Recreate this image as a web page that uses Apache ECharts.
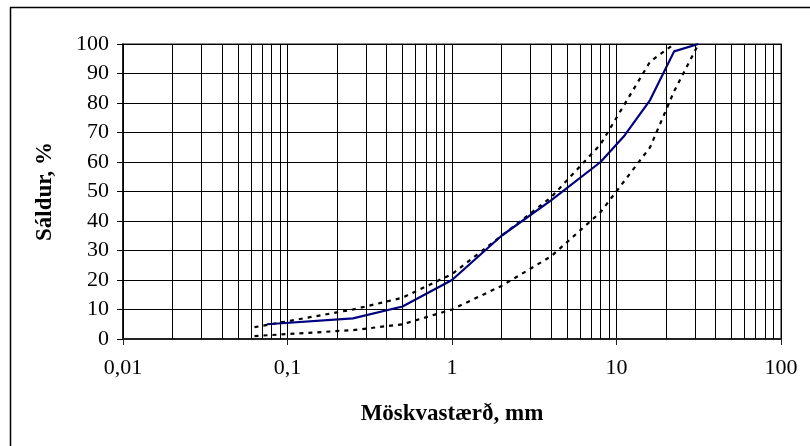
<!DOCTYPE html>
<html>
<head>
<meta charset="utf-8">
<script src="https://cdn.jsdelivr.net/npm/echarts@6/dist/echarts.min.js"></script>
<style>
html,body{margin:0;padding:0;background:#fff;}
#c{width:810px;height:446px;}
</style>
</head>
<body>
<div id="c"></div>
<script>
// Sieve sizes (mm) and passing (%) for each curve
const sampleSizes   = [0.075, 0.25, 0.5, 1, 2, 4, 8, 11.2, 16, 22.4, 31.5];
const samplePassing = [5, 7, 11, 20, 35, 47, 60, 69, 81, 97.5, 100];

const upperSizes   = [0.063, 0.25, 0.5, 1, 2, 4, 8, 16, 22.4];
const upperPassing = [4, 10, 14, 22, 35, 48, 66, 94, 100];

const lowerSizes   = [0.063, 0.25, 0.5, 1, 2, 4, 8, 16, 22.4, 31.5];
const lowerPassing = [1, 3, 5, 10, 18, 28, 43, 65, 84, 100];

// Axis settings / labels
const xMin = 0.01, xMax = 100;
const yMin = 0, yMax = 100, yInterval = 10;
const xTitle = 'Möskvastærð, mm';
const yTitle = 'Sáldur, %';

// Minor log grid positions (2..9 within each decade)
const decades = [0.01, 0.1, 1, 10];
const minorMultipliers = [2, 3, 4, 5, 6, 7, 8, 9];
const minorGridValues = [];
decades.forEach(d => minorMultipliers.forEach(m => minorGridValues.push(+(d * m).toPrecision(6))));

const zip = (xs, ys) => xs.map((x, i) => [x, ys[i]]);
const FONT = 'Liberation Serif';

const chart = echarts.init(document.getElementById('c'), null, {renderer: 'canvas'});
chart.setOption({
  animation: false,
  backgroundColor: '#fff',
  graphic: [{
    type: 'rect',
    shape: {x: 10.5, y: 7.5, width: 840, height: 480},
    style: {fill: 'none', stroke: '#000', lineWidth: 1.5},
    silent: true, z: -10
  }],
  grid: {
    left: 123, right: 29, top: 44, bottom: 107,
    show: true, borderColor: '#8a8a8a', borderWidth: 2, backgroundColor: 'transparent'
  },
  xAxis: {
    type: 'log', logBase: 10, min: xMin, max: xMax,
    name: xTitle, nameLocation: 'middle', nameGap: 64,
    nameTextStyle: {fontFamily: FONT, fontWeight: 'bold', fontSize: 23, color: '#000'},
    axisLine: {show: true, onZero: false, lineStyle: {color: '#222', width: 2}},
    axisTick: {show: true, inside: false, length: 6, lineStyle: {color: '#222', width: 1}},
    axisLabel: {
      fontFamily: FONT, fontSize: 22, color: '#000', margin: 18,
      formatter: v => String(+Number(v).toPrecision(6)).replace('.', ',')
    },
    splitLine: {show: true, lineStyle: {color: '#000', width: 1}},
    minorTick: {show: false}
  },
  yAxis: {
    type: 'value', min: yMin, max: yMax, interval: yInterval,
    name: yTitle, nameLocation: 'middle', nameGap: 66, nameRotate: 90,
    nameTextStyle: {fontFamily: FONT, fontWeight: 'bold', fontSize: 23, color: '#000'},
    axisLine: {show: true, lineStyle: {color: '#000', width: 1.5}},
    axisTick: {show: true, inside: false, length: 6, lineStyle: {color: '#000', width: 1}},
    axisLabel: {fontFamily: FONT, fontSize: 22, color: '#000', margin: 14},
    splitLine: {show: true, lineStyle: {color: '#000', width: 1}}
  },
  series: [
    {
      name: 'grid', type: 'line', data: [], silent: true, z: 1,
      markLine: {
        silent: true, symbol: ['none', 'none'], animation: false,
        label: {show: false},
        lineStyle: {color: '#000', width: 1, type: 'solid'},
        data: minorGridValues.map(v => ({xAxis: v}))
      }
    },
    {
      name: 'lower', type: 'line', data: zip(lowerSizes, lowerPassing),
      showSymbol: false, symbol: 'none', z: 3,
      lineStyle: {color: '#000', width: 2.2, type: [4, 5]}
    },
    {
      name: 'upper', type: 'line', data: zip(upperSizes, upperPassing),
      showSymbol: false, symbol: 'none', z: 3,
      lineStyle: {color: '#000', width: 2.2, type: [4, 5]}
    },
    {
      name: 'sample', type: 'line', data: zip(sampleSizes, samplePassing),
      showSymbol: false, symbol: 'none', z: 4,
      lineStyle: {color: '#000080', width: 2.2}
    }
  ]
});
</script>
</body>
</html>
